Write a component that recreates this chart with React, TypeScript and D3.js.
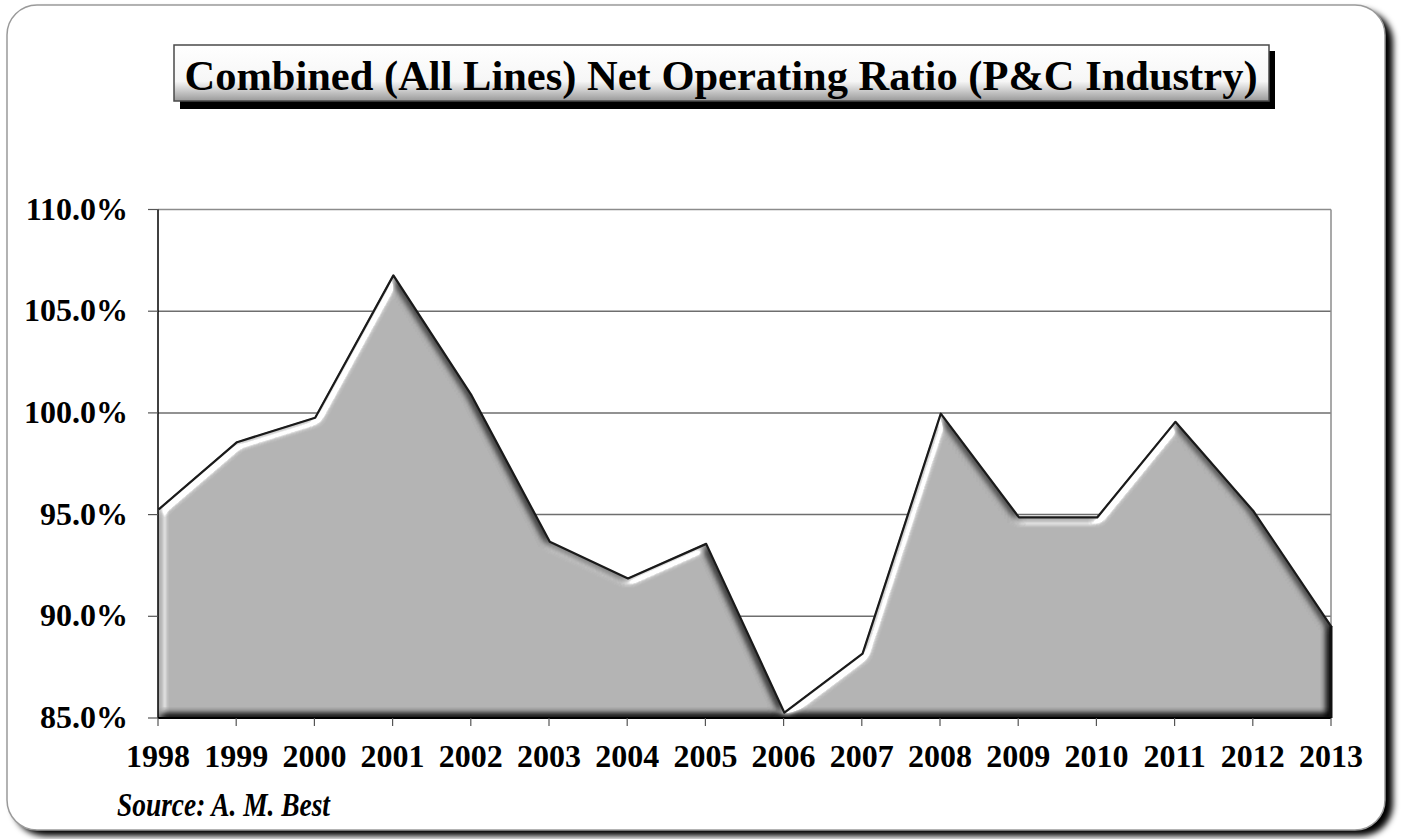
import React from 'react';
import * as d3 from 'd3';

const years = ['1998', '1999', '2000', '2001', '2002', '2003', '2004', '2005', '2006', '2007', '2008', '2009', '2010', '2011', '2012', '2013'];
const ratios = [95.3, 98.6, 99.8, 106.8, 100.9, 93.7, 91.9, 93.6, 85.3, 88.2, 100.0, 94.9, 94.9, 99.6, 95.2, 89.5];
const yTicks = [85, 90, 95, 100, 105, 110];

const title = 'Combined (All Lines) Net Operating Ratio (P&C Industry)';
const source = 'Source: A. M. Best';

const W = 1401;
const H = 839;
const margin = { top: 209.5, right: 70, bottom: 121, left: 158 };
const serif = '"Liberation Serif", "Times New Roman", Times, serif';

const App: React.FC = () => {
  const innerW = W - margin.left - margin.right;
  const innerH = H - margin.top - margin.bottom;

  const x = d3
    .scalePoint<string>()
    .domain(years)
    .range([0, innerW]);

  const y = d3.scaleLinear().domain([85, 110]).range([innerH, 0]);

  const pts = years.map((yr, i) => ({ yr, v: ratios[i] }));

  const area = d3
    .area<{ yr: string; v: number }>()
    .x((d) => x(d.yr) as number)
    .y0(innerH)
    .y1((d) => y(d.v));

  const line = d3
    .line<{ yr: string; v: number }>()
    .x((d) => x(d.yr) as number)
    .y((d) => y(d.v));

  return (
    <svg
      width={W}
      height={H}
      style={{ position: 'absolute', left: 0, top: 0, display: 'block' }}
    >
      <defs>
        <filter id="frame-shadow" x="-5%" y="-5%" width="110%" height="110%">
          <feGaussianBlur stdDeviation="3" />
        </filter>
        <linearGradient id="title-grad" x1="0" y1="0" x2="0" y2="1">
          <stop offset="0%" stopColor="#ffffff" />
          <stop offset="65%" stopColor="#f6f6f6" />
          <stop offset="100%" stopColor="#9a9a9a" />
        </linearGradient>
        {/* bevel lit from the upper left */}
        <filter id="bevel" x="-3%" y="-3%" width="106%" height="106%" colorInterpolationFilters="sRGB">
          <feGaussianBlur in="SourceAlpha" stdDeviation="4" result="blur" />
          <feDiffuseLighting in="blur" surfaceScale="8" diffuseConstant="1" lightingColor="#ffffff" result="diff">
            <feDistantLight azimuth="225" elevation="55" />
          </feDiffuseLighting>
          <feComposite in="SourceGraphic" in2="diff" operator="arithmetic" k1="1.22" k2="0" k3="0" k4="0" result="shaded" />
          <feSpecularLighting in="blur" surfaceScale="8" specularConstant="1" specularExponent="30" lightingColor="#ffffff" result="spec">
            <feDistantLight azimuth="225" elevation="25" />
          </feSpecularLighting>
          <feComposite in="spec" in2="SourceAlpha" operator="in" result="specIn" />
          <feComposite in="shaded" in2="specIn" operator="arithmetic" k1="0" k2="1" k3="0.9" k4="0" result="lit" />
          <feComposite in="lit" in2="SourceAlpha" operator="in" />
        </filter>
      </defs>

      {/* outer frame */}
      <rect x={13} y={10} width={1380} height={826} rx={32} fill="#000" filter="url(#frame-shadow)" />
      <rect x={7} y={5} width={1378} height={825} rx={30} fill="#fff" stroke="#9a9a9a" strokeWidth={1.5} />

      {/* title box */}
      <rect x={180} y={51} width={1095} height={58} fill="#000" />
      <rect x={174} y={45} width={1095} height={56} fill="url(#title-grad)" stroke="#4a4a4a" strokeWidth={1.5} />
      <text
        x={721}
        y={90}
        textAnchor="middle"
        fontFamily={serif}
        fontWeight="bold"
        fontSize={42.5}
        fill="#000"
      >
        {title}
      </text>

      <g transform={`translate(${margin.left},${margin.top})`}>
        {/* grid */}
        {yTicks.slice(1).map((t) => (
          <line key={t} x1={0} x2={innerW} y1={y(t)} y2={y(t)} stroke={t === 110 ? '#8c8c8c' : '#6e6e6e'} strokeWidth={1.5} />
        ))}
        <line x1={innerW} x2={innerW} y1={0} y2={innerH} stroke="#8c8c8c" strokeWidth={1.5} />

        {/* area */}
        <path d={area(pts) ?? ''} fill="#b2b2b2" filter="url(#bevel)" />
        <path d={line(pts) ?? ''} fill="none" stroke="#1a1a1a" strokeWidth={2.2} strokeLinejoin="round" transform="translate(0.8,0.8)" />
        <line x1={innerW} x2={innerW} y1={y(ratios[ratios.length - 1])} y2={innerH} stroke="#111" strokeWidth={3} />

        {/* y axis */}
        <line x1={0} x2={0} y1={0} y2={innerH} stroke="#000" strokeWidth={1.5} />
        {yTicks.map((t) => (
          <g key={t} transform={`translate(0,${y(t)})`}>
            <line x1={-10} x2={0} stroke="#555" strokeWidth={1.2} />
            <text
              x={-30}
              y={10}
              textAnchor="end"
              fontFamily={serif}
              fontWeight="bold"
              fontSize={32}
              fill="#000"
            >
              {`${t.toFixed(1)}%`}
            </text>
          </g>
        ))}

        {/* x axis */}
        <line x1={0} x2={innerW} y1={innerH} y2={innerH} stroke="#000" strokeWidth={2} />
        {years.map((yr) => (
          <g key={yr} transform={`translate(${x(yr)},${innerH})`}>
            <line y1={0} y2={8} stroke="#555" strokeWidth={1.2} />
            <text
              y={49}
              textAnchor="middle"
              fontFamily={serif}
              fontWeight="bold"
              fontSize={32}
              fill="#000"
            >
              {yr}
            </text>
          </g>
        ))}
      </g>

      <text
        x={117}
        y={816}
        fontFamily={serif}
        fontWeight="bold"
        fontStyle="italic"
        fontSize={33}
        textLength={213}
        lengthAdjust="spacingAndGlyphs"
        fill="#000"
      >
        {source}
      </text>
    </svg>
  );
};

export default App;
